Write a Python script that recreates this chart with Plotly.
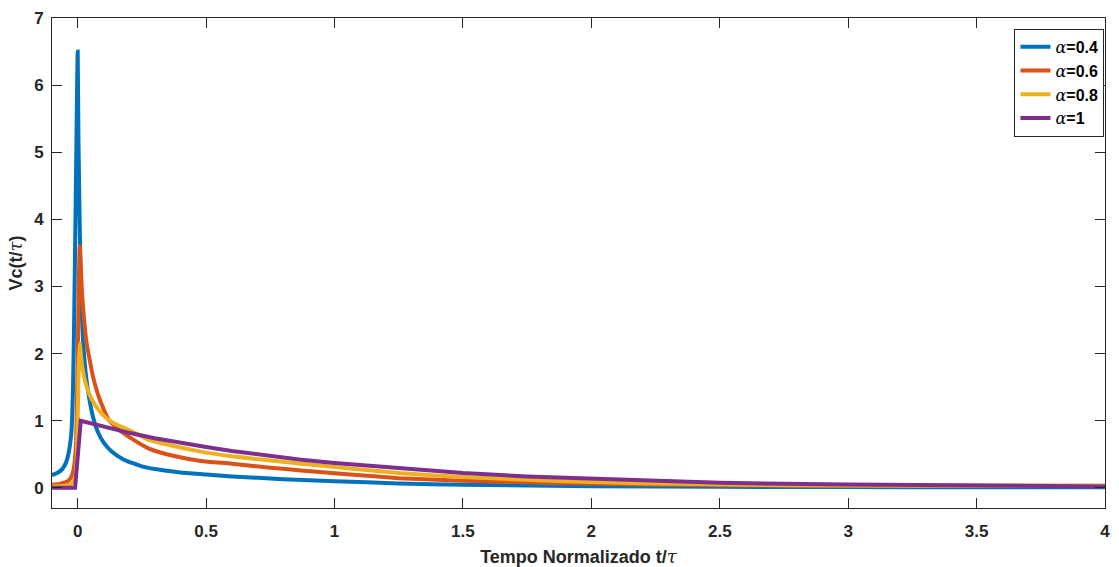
import plotly.graph_objects as go

# Normalised time samples and capacitor voltage for each fractional order
t_a04 = [-0.1, -0.08, -0.06, -0.045, -0.035, -0.025, -0.018, -0.012, -0.006, 0.0,
         0.003, 0.008, 0.013, 0.02, 0.03, 0.04, 0.06, 0.08, 0.1, 0.13, 0.18, 0.25,
         0.3, 0.4, 0.5, 0.6, 0.8, 1.0, 1.25, 1.5, 2.0, 2.5, 3.0, 3.5, 4.0]
vc_a04 = [0.19, 0.22, 0.28, 0.38, 0.52, 0.8, 1.5, 3.0, 4.8, 6.5,
          5.2, 3.9, 2.9, 2.25, 1.75, 1.45, 1.05, 0.82, 0.68, 0.55, 0.42, 0.32,
          0.28, 0.23, 0.2, 0.17, 0.13, 0.1, 0.065, 0.045, 0.025, 0.015, 0.012, 0.01, 0.01]

t_a06 = [-0.1, -0.07, -0.05, -0.035, -0.025, -0.018, -0.012, -0.006, 0.0, 0.004,
         0.008, 0.012, 0.017, 0.025, 0.035, 0.047, 0.06, 0.08, 0.1, 0.12, 0.15, 0.2,
         0.28, 0.38, 0.48, 0.6, 0.75, 0.87, 1.06, 1.25, 1.5, 1.9, 2.2, 2.6, 3.0, 3.5, 4.0]
vc_a06 = [0.045, 0.06, 0.08, 0.11, 0.16, 0.24, 0.38, 0.7, 1.9, 3.0,
          3.6, 3.3, 2.9, 2.5, 2.15, 1.9, 1.65, 1.38, 1.18, 1.02, 0.9, 0.76,
          0.58, 0.47, 0.4, 0.36, 0.3, 0.26, 0.2, 0.145, 0.105, 0.07, 0.05, 0.035, 0.03, 0.03, 0.03]

t_a08 = [-0.1, -0.05, -0.03, -0.02, -0.01, -0.004, 0.0, 0.004, 0.008, 0.012,
         0.018, 0.028, 0.045, 0.07, 0.1, 0.137, 0.2, 0.28, 0.33, 0.48, 0.6, 0.67,
         0.87, 1.06, 1.25, 1.5, 1.9, 2.2, 2.6, 3.0, 3.5, 4.0]
vc_a08 = [0.02, 0.03, 0.05, 0.08, 0.15, 0.4, 1.0, 1.8, 2.15, 2.0,
          1.8, 1.6, 1.4, 1.22, 1.08, 0.97, 0.86, 0.71, 0.66, 0.54, 0.47, 0.44,
          0.36, 0.29, 0.22, 0.16, 0.1, 0.07, 0.045, 0.035, 0.03, 0.03]

t_a10 = [-0.1, -0.01, 0.012, 0.1, 0.2, 0.3, 0.4, 0.5, 0.6, 0.75, 0.87, 1.0,
         1.25, 1.5, 1.75, 2.0, 2.25, 2.5, 3.0, 3.5, 4.0]
vc_a10 = [0.0, 0.0, 1.0, 0.91, 0.82, 0.74, 0.67, 0.61, 0.55, 0.47, 0.42, 0.37,
          0.29, 0.22, 0.17, 0.135, 0.1, 0.075, 0.05, 0.03, 0.02]

series = [
    ("0.4", t_a04, vc_a04, "#0072BD", "spline"),
    ("0.6", t_a06, vc_a06, "#D95319", "spline"),
    ("0.8", t_a08, vc_a08, "#EDB120", "spline"),
    ("1", t_a10, vc_a10, "#7E2F8E", "linear"),
]

x_ticks = [0, 0.5, 1, 1.5, 2, 2.5, 3, 3.5, 4]
x_tick_text = ["0", "0.5", "1", "1.5", "2", "2.5", "3", "3.5", "4"]
y_ticks = [0, 1, 2, 3, 4, 5, 6, 7]

AX = "#262626"
FONT = "Liberation Sans, Arial, sans-serif"
GREEK = '<span style="font-family:DejaVu Serif;font-weight:normal"><i>%s</i></span>'

fig = go.Figure()
for alpha, t, vc, color, shape in series:
    fig.add_trace(go.Scatter(
        x=t, y=vc, mode="lines",
        name=GREEK % "α" + "=" + alpha,
        line=dict(color=color, width=4, shape=shape, smoothing=0.5),
    ))

axis_common = dict(
    showline=True, linecolor=AX, linewidth=1, mirror="ticks",
    ticks="inside", ticklen=10, tickwidth=1, tickcolor=AX,
    showgrid=False, zeroline=False,
    tickfont=dict(family=FONT, size=17, color=AX, weight="bold"),
)

fig.update_layout(
    width=1119, height=567,
    margin=dict(l=52, r=14, t=18, b=59),
    plot_bgcolor="white", paper_bgcolor="white",
    showlegend=True,
    legend=dict(
        x=0.9995, xanchor="right", y=0.978, yanchor="top",
        bgcolor="white", bordercolor=AX, borderwidth=1,
        font=dict(family=FONT, size=16, color="black", weight="bold"),
        tracegroupgap=0,
    ),
    xaxis=dict(
        range=[-0.1, 4], tickvals=x_ticks, ticktext=x_tick_text,
        ticklabelstandoff=8,
        title=dict(text="Tempo Normalizado t/" + GREEK % "τ", standoff=10,
                   font=dict(family=FONT, size=18, color=AX, weight="bold")),
        automargin=False,
        **axis_common,
    ),
    yaxis=dict(
        range=[-0.3, 7], tickvals=y_ticks,
        ticklabelstandoff=4,
        title=dict(text="Vc(t/" + GREEK % "τ" + ")", standoff=6,
                   font=dict(family=FONT, size=18, color=AX, weight="bold")),
        automargin=False,
        **axis_common,
    ),
)

fig.write_html("out.html")
